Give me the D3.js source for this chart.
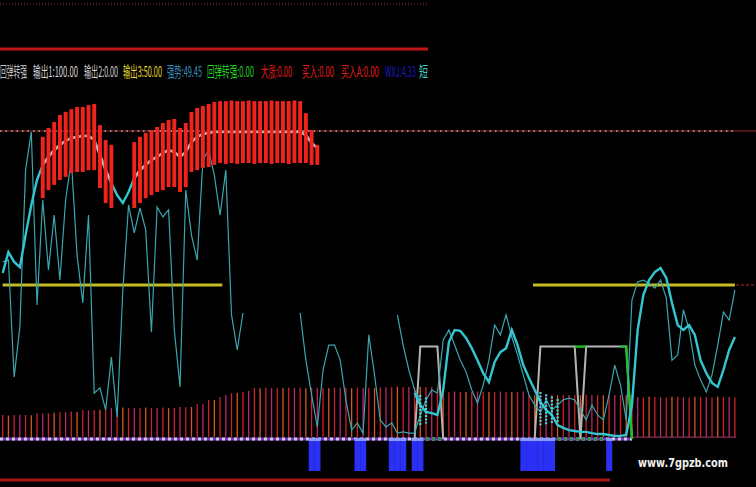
<!DOCTYPE html>
<html><head><meta charset="utf-8">
<script src="https://cdn.jsdelivr.net/npm/d3@7"></script>
<style>html,body{margin:0;padding:0;background:#000;overflow:hidden}</style>
</head><body>
<script>
// ---------- data (indicator units, 0..100 scale; 129 bars) ----------
const headerLabels = ["回弹转强","输出1:100.00","输出2:0.00","输出3:50.00","强势:49.45","回弹转强:0.00","大涨:0.00","买入:0.00","买入A:0.00","WXJ:4.33","短"];
const levelTop = 100;     // dotted reference line
const levelMid = 50;      // yellow line (输出3)

const candleIndex = [7,8,9,10,11,12,13,14,15,16,17,18,19,
  23,24,25,26,27,28,29,30,31,32,33,34,35,36,37,38,39,40,41,42,43,44,45,46,47,48,49,50,51,52,53,54,55];
const candleHigh = [98.1,101.0,102.9,105.2,106.2,107.1,107.8,107.8,108.4,108.8,101.9,97.1,95.5,
  96.4,98.1,99.4,100.3,101.3,102.6,103.6,103.9,101.0,102.6,106.2,107.5,108.1,108.8,109.4,
  109.7,109.7,109.9,109.7,109.7,109.9,109.7,109.7,109.7,109.9,109.7,109.7,109.7,109.9,109.7,
  105.8,100.3,95.5];
const candleLow = [78.2,80.8,82.5,84.1,85.1,86.4,86.7,86.7,87.3,87.3,81.5,76.6,75.0,
  75.0,76.6,78.2,79.2,80.2,80.8,81.8,81.8,80.2,81.8,86.7,87.3,88.0,88.3,89.0,
  89.6,89.3,89.6,89.3,89.6,89.6,89.3,89.6,89.6,89.3,89.6,89.6,89.3,89.6,89.6,
  89.6,89.0,89.0];

const maLine = [53.9,60.7,57.5,55.8,66.2,76.0,84.1,89.0,91.6,93.8,95.5,96.8,97.7,98.1,98.4,98.4,97.1,92.2,87.3,83.1,
  79.2,76.6,80.2,84.7,87.3,89.0,90.6,91.6,92.9,93.8,93.2,91.6,93.2,96.4,98.1,99.0,99.4,
  99.7,99.7,99.7,99.7,99.7,99.7,99.7,99.7,99.7,99.7,99.7,99.7,99.7,99.7,99.7,99.7,
  98.7,96.1,94.5,
  null,null,null,null,null,null,null,null,null,null,null,null,null,null,null,null,
  14.9,11.0,8.8,8.4,7.8,15.9,31.5,35.4,35.1,32.8,29.5,25.6,21.4,18.5,25.0,28.2,29.5,35.4,30.5,24.0,
  19.8,15.9,12.0,9.4,7.8,4.5,3.6,2.9,2.6,2.3,2.3,1.9,1.6,1.6,1.3,1.0,1.0,1.3,11.0,35.4,
  46.8,51.6,54.2,55.5,52.3,44.2,37.0,35.4,37.0,33.8,25.6,21.4,18.2,16.9,22.4,28.9,33.1];

const oscLine = [57.5,58.1,20.1,36.4,87.3,99.7,43.5,77.6,54.9,72.7,51.6,77.6,90.6,59.7,44.2,72.7,14.9,16.6,9.4,26.6,
  7.1,48.4,76.0,66.9,75.0,67.9,34.7,75.3,72.1,74.4,35.4,16.9,80.8,66.2,58.1,90.6,93.8,85.7,72.7,87.3,
  40.3,28.9,40.9,
  null,null,null,null,null,null,null,null,null,
  40.9,25.6,14.3,3.9,22.4,30.5,30.5,25.6,12.7,2.9,5.2,1.9,33.8,20.8,6.2,3.9,5.2,1.9,2.3,1.9,
  1.9,7.8,12.7,15.9,14.9,32.1,35.4,30.5,25.6,21.8,15.9,11.7,17.5,25.6,37.0,33.8,40.3,33.1,27.3,20.8,
  14.3,11.0,8.8,12.7,9.4,11.0,12.7,13.3,12.7,9.4,6.2,11.0,7.8,6.2,14.3,24.0,17.5,6.2,45.1,51.0,
  51.6,50.6,49.0,51.6,45.8,25.6,27.3,41.9,35.4,24.0,19.2,15.3,20.8,30.5,41.2,38.6,48.4];

const osc2Index = [69,70,71,72,73];
const osc2Line = [40.3,30.5,22.4,15.9,12.7];

const volume = [7.8,7.6,7.8,7.9,7.8,7.7,8.4,8.3,8.4,8.5,8.8,8.7,8.9,8.8,9.4,9.3,9.4,9.5,9.4,
  10.1,10.0,10.2,10.1,10.1,10.0,10.2,10.1,10.1,10.2,10.0,10.1,10.4,10.3,10.4,11.4,11.3,12.7,12.6,
  13.6,14.3,14.9,14.9,15.3,15.6,
  16.6,16.5,16.7,16.6,16.6,16.5,16.7,16.6,16.6,16.5,16.7,16.6,16.6,16.5,16.7,16.6,16.6,16.5,16.7,16.6,16.6,16.5,16.7,
  16.9,16.8,17.0,16.9,16.9,16.8,17.0,16.9,16.9,16.8,
  15.3,15.2,15.4,15.3,15.3,15.2,15.4,15.3,15.3,15.2,15.4,15.3,15.3,15.2,15.4,
  14.3,14.2,14.4,14.3,14.3,14.2,14.4,14.3,14.3,14.2,14.4,14.3,14.3,14.2,14.4,14.3,14.3,14.2,14.4,
  13.6,13.5,13.7,13.6,13.6,13.5,13.7,13.6,13.6,13.5,13.7,13.6,13.6,13.5,13.7,13.6,13.6,13.5];

// step indicator (0 / 30)
const stepIndex = [72,73,74,75,76,77, 93,94,95,96,97,98,99,100,101,102,103,104,105,106,107,108,109,110];
const stepValue = [0,30,30,30,30,0, 0,30,30,30,30,30,30,30,0,30,30,30,30,30,30,30,30,0];
const greenStepIndex = [[100,101,102],[108,109,110]];
const greenStepValue = [[30,30,30],[30,30,0]];

const signalIndex = [54,55,62,63,68,69,70,72,73,91,92,93,94,95,96,106];   // blue bars
const baselineGreen = [[74,77],[96,105]];
const hatchIndex = [73,74,94,95,96,97];
const hatchTop = [14.3,13.5,15.3,14.5,13.8,13.0];
const hatchBot = [4.5,5.0,4.5,4.5,5.0,5.5];
const yellowSpans = [[0,38.4],[92.7,128]];

// ---------- drawing ----------
const W=756,H=487;
const svg=d3.select("body").append("svg").attr("width",W).attr("height",H).style("background","#000");
const x=d3.scaleLinear().domain([0,128]).range([2.7,734.9]);
const y=d3.scaleLinear().domain([0,100]).range([439,131]);
const step=x(1)-x(0);
const N=maLine.length;

// faint top noise line
svg.append("line").attr("x1",0).attr("x2",428).attr("y1",4).attr("y2",4)
  .attr("stroke","#3a1818").attr("stroke-width",3).attr("stroke-dasharray","1,2");

// dotted reference line at 100
svg.append("line").attr("x1",0).attr("x2",W).attr("y1",y(levelTop)).attr("y2",y(levelTop))
  .attr("stroke","#6a1c1c").attr("stroke-width",1.5);
svg.append("line").attr("x1",0).attr("x2",736).attr("y1",y(levelTop)).attr("y2",y(levelTop))
  .attr("stroke","#c8a8a8").attr("stroke-width",1.5).attr("stroke-dasharray","1.5,4");

svg.append("line").attr("x1",736).attr("x2",W).attr("y1",y(levelMid)).attr("y2",y(levelMid))
  .attr("stroke","#7a1c1c").attr("stroke-width",1.5).attr("stroke-dasharray","3,2");

// volume-like sticks
const volColors=["#d0202a","#d45a1c","#d0202a","#b8286c"];
svg.append("g").selectAll("line").data(volume).join("line")
  .attr("x1",(d,i)=>x(i)).attr("x2",(d,i)=>x(i))
  .attr("y1",y(0.6)).attr("y2",d=>y(d))
  .attr("stroke",(d,i)=>volColors[i%4]).attr("stroke-width",1.3);

// baseline
svg.append("line").attr("x1",0).attr("x2",x(110)).attr("y1",y(0)).attr("y2",y(0))
  .attr("stroke","#7a3cc8").attr("stroke-width",3);
svg.append("line").attr("x1",0).attr("x2",x(110)).attr("y1",y(0)).attr("y2",y(0))
  .attr("stroke","#d0c8d8").attr("stroke-width",3).attr("stroke-dasharray","3,3");
baselineGreen.forEach(r=>{
  svg.append("line").attr("x1",x(r[0])).attr("x2",x(r[1])).attr("y1",y(0)).attr("y2",y(0))
    .attr("stroke","#1e9a2a").attr("stroke-width",3).attr("stroke-dasharray","3,3");
});
svg.append("line").attr("x1",x(110)).attr("x2",736).attr("y1",y(0.6)).attr("y2",y(0.6))
  .attr("stroke","#a03c70").attr("stroke-width",1);

// blue signal bars
svg.append("g").selectAll("rect").data(signalIndex).join("rect")
  .attr("x",d=>x(d)-step/2).attr("width",step+0.3)
  .attr("y",y(0)).attr("height",32).attr("fill","#2a30f4");
svg.append("g").selectAll("rect").data(signalIndex).join("rect")
  .attr("x",d=>x(d)-step/2).attr("width",step+0.3)
  .attr("y",y(0)-1).attr("height",3).attr("fill","#8a9cff");

// yellow level lines
yellowSpans.forEach(s=>{
  svg.append("line").attr("x1",x(s[0])).attr("x2",x(s[1])).attr("y1",y(levelMid)).attr("y2",y(levelMid))
    .attr("stroke","#c4bc22").attr("stroke-width",3);
});

// step indicator
const stepPts=stepIndex.map((d,k)=>({i:d,v:stepValue[k]}));
const lineGen=d3.line().x(d=>x(d.i)).y(d=>y(d.v));
[[0,6],[6,24]].forEach(r=>{
  svg.append("path").datum(stepPts.slice(r[0],r[1])).attr("d",lineGen)
    .attr("fill","none").attr("stroke","#b4b4b4").attr("stroke-width",2);
});
greenStepIndex.forEach((idx,k)=>{
  svg.append("path").datum(idx.map((d,j)=>({i:d,v:greenStepValue[k][j]}))).attr("d",lineGen)
    .attr("fill","none").attr("stroke","#1ec02a").attr("stroke-width",2.4);
});

// thin oscillator
const oscGen=d3.line().defined(d=>d!=null).x((d,i)=>x(i)).y(d=>y(d));
svg.append("path").datum(oscLine).attr("d",oscGen)
  .attr("fill","none").attr("stroke","#3aa6ae").attr("stroke-width",1.2);
svg.append("path").datum(osc2Line.map((v,k)=>({i:osc2Index[k],v}))).attr("d",lineGen)
  .attr("fill","none").attr("stroke","#3aa6ae").attr("stroke-width",1.2);

// moving average: gray inside candle zone, cyan elsewhere
const maPts=maLine.map((v,i)=>({i,v}));
const maGen=d3.line().defined(d=>d.v!=null).x(d=>x(d.i)).y(d=>y(d.v));
const inCandle=new Set(candleIndex);
function segs(pred){
  const out=[];let cur=[];
  for(let i=0;i<N;i++){
    const p=maPts[i];
    if(p.v!=null && pred(i)){cur.push(p);} else {if(cur.length>1)out.push(cur);cur=[];}
  }
  if(cur.length>1)out.push(cur);
  return out;
}
segs(i=>inCandle.has(i)).forEach(s=>{
  svg.append("path").datum(s).attr("d",maGen).attr("fill","none")
    .attr("stroke","#bcbcbc").attr("stroke-width",2.8);
});
const cyanIdx=i=>!inCandle.has(i)||!inCandle.has(i-1)||!inCandle.has(i+1);
segs(i=>cyanIdx(i)).forEach(s=>{
  svg.append("path").datum(s).attr("d",maGen).attr("fill","none")
    .attr("stroke","#34c6d0").attr("stroke-width",2.4);
});

// candles
svg.append("g").selectAll("rect").data(candleIndex).join("rect")
  .attr("x",d=>x(d)-1.95).attr("width",3.9)
  .attr("y",(d,k)=>y(candleHigh[k])).attr("height",(d,k)=>y(candleLow[k])-y(candleHigh[k]))
  .attr("fill","#f0241c");

// cyan hatch marks
svg.append("g").selectAll("line").data(hatchIndex).join("line")
  .attr("x1",d=>x(d)).attr("x2",d=>x(d))
  .attr("y1",(d,k)=>y(hatchTop[k])).attr("y2",(d,k)=>y(hatchBot[k]))
  .attr("stroke","#40d8e0").attr("stroke-width",2.2).attr("stroke-dasharray","2,1.5");

// header
svg.append("line").attr("x1",0).attr("x2",428).attr("y1",49).attr("y2",49)
  .attr("stroke","#c01818").attr("stroke-width",3);
const hdr=[[0,27,"#c4c4c4"],[33,78,"#d8d8d8"],[84,118,"#d0d0d0"],[123,162,"#e4dc30"],[167,202,"#3c8cbc"],
  [207,254,"#28d028"],[261,292,"#e01c1c"],[302,334,"#e01c1c"],[341,379,"#e01c1c"],[385,416,"#1c1cc0"],[419,428,"#40d0d0"]];
const hg=svg.append("g");
headerLabels.forEach((t,k)=>{
  const tx=hg.append("text").attr("x",0).attr("y",0).text(t)
    .attr("fill",hdr[k][2]).attr("font-family","'Noto Sans CJK SC',sans-serif").attr("font-size",15);
  const natural=tx.node().getComputedTextLength();
  const sx=(hdr[k][1]-hdr[k][0])/natural;
  tx.attr("transform",`translate(${hdr[k][0]},77) scale(${sx},1)`);
});

// bottom red line
svg.append("line").attr("x1",0).attr("x2",610).attr("y1",480).attr("y2",480)
  .attr("stroke","#a8161a").attr("stroke-width",3);

// watermark
const wm=svg.append("text").attr("x",0).attr("y",0).text("www.7gpzb.com")
  .attr("fill","#f0f0f0").attr("font-family","'DejaVu Sans',sans-serif").attr("font-weight","bold")
  .attr("font-size",12);
const wmw=wm.node().getComputedTextLength();
wm.attr("transform",`translate(638,467) scale(${90/wmw},1)`);
</script>
</body></html>
